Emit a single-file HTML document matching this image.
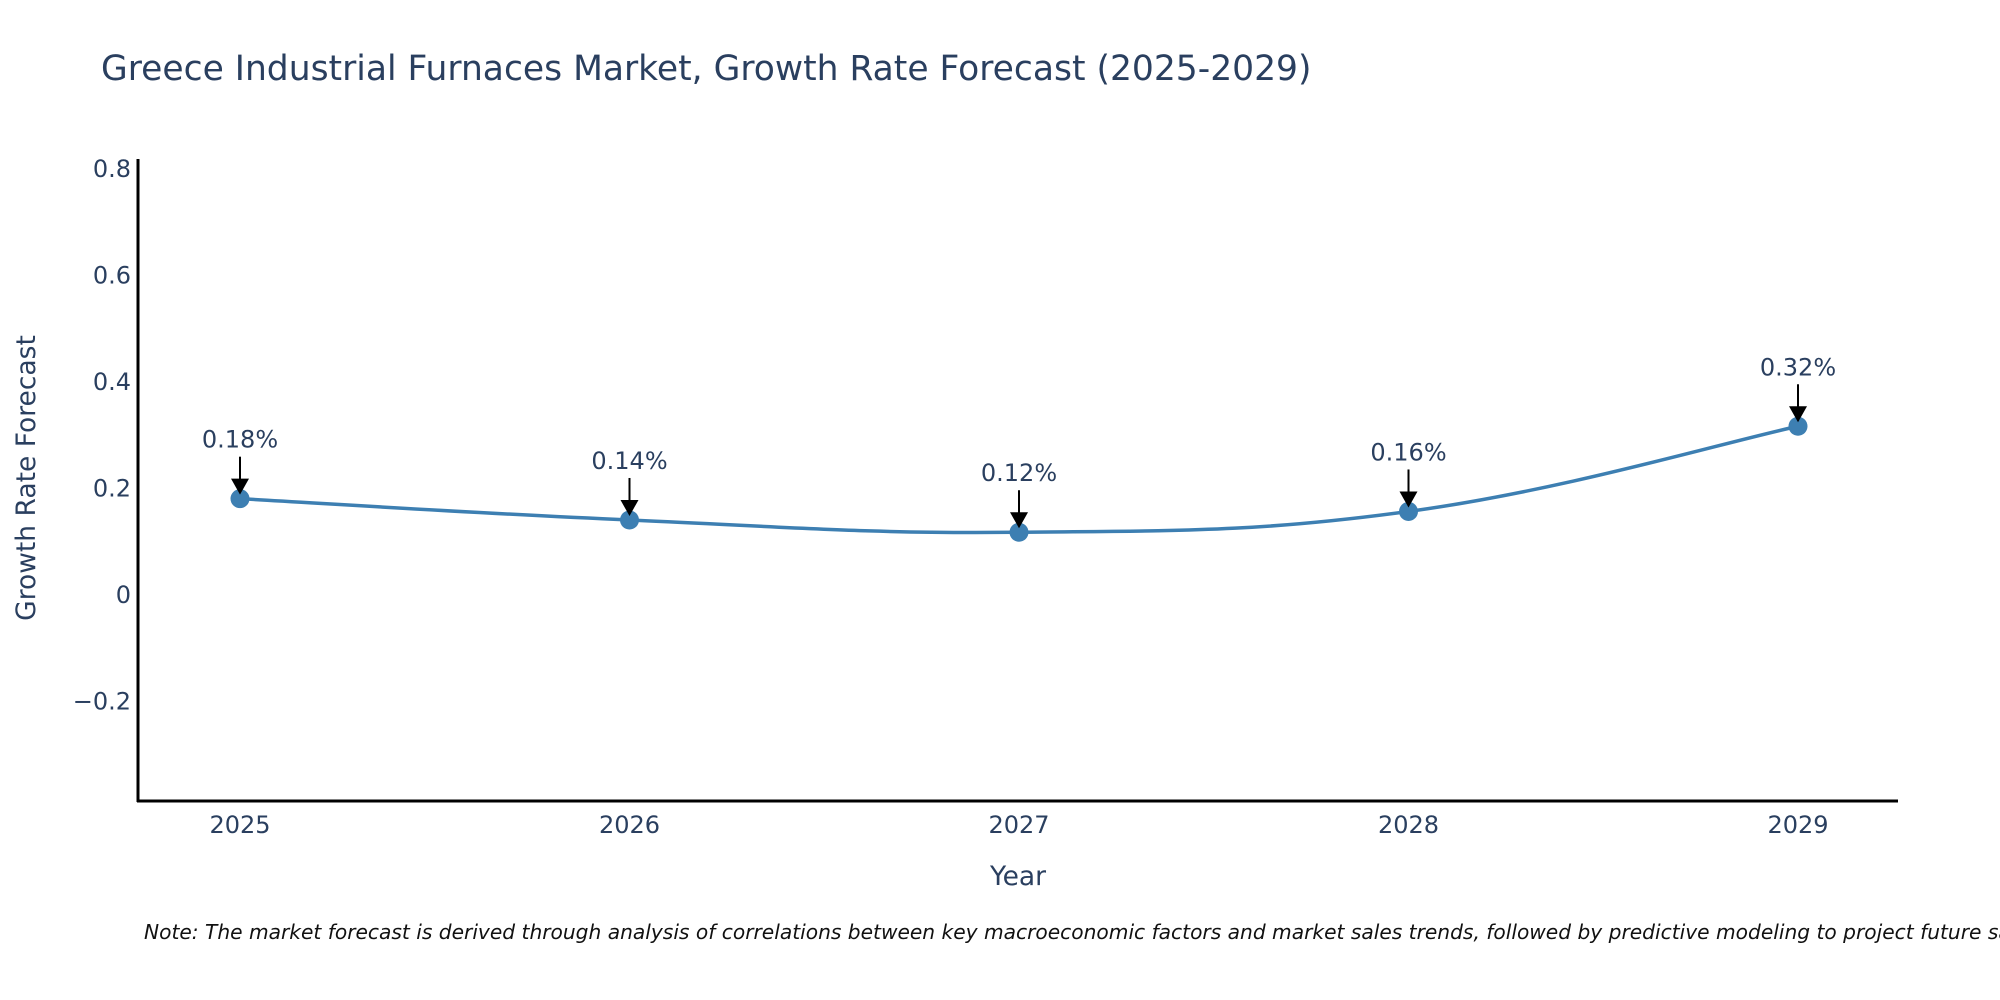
<!DOCTYPE html>
<html><head><meta charset="utf-8"><style>
body{margin:0;background:#fff;}
svg{display:block;font-family:"DejaVu Sans","Liberation Sans",sans-serif;}
</style></head><body>
<svg id="chart" width="2000" height="1000" viewBox="0 0 2000 1000">
<text x="101" y="80" font-size="34.5" fill="#2a3f5f">Greece Industrial Furnaces Market, Growth Rate Forecast (2025-2029)</text>
<g id="yticks"></g>
<g id="xticks"></g>
<g id="series"></g>
<line x1="138" y1="159" x2="138" y2="802" stroke="#000" stroke-width="3"/>
<line x1="137" y1="801" x2="1898" y2="801" stroke="#000" stroke-width="3"/>
<text x="1018" y="885" font-size="26.5" fill="#2a3f5f" text-anchor="middle">Year</text>
<text transform="translate(35,478) rotate(-90)" font-size="26.5" fill="#2a3f5f" text-anchor="middle">Growth Rate Forecast</text>
<text x="144" y="939" font-size="20.2" font-style="italic" fill="#111">Note: The market forecast is derived through analysis of correlations between key macroeconomic factors and market sales trends, followed by predictive modeling to project future sales.</text>
</svg>
<script>
const categories = ["2025","2026","2027","2028","2029"];
const values = [0.179, 0.139, 0.116, 0.155, 0.315];
const labels = ["0.18%","0.14%","0.12%","0.16%","0.32%"];
const yTickValues = [-0.2, 0, 0.2, 0.4, 0.6, 0.8];
const yTickLabels = ["\u22120.2","0","0.2","0.4","0.6","0.8"];

const NS = "http://www.w3.org/2000/svg";
function xs(i){ return 240 + i * 389.5; }
function ys(v){ return 594 - v * 532.5; }
function mk(tag, attrs, parent){ const e=document.createElementNS(NS,tag); for(const k in attrs) e.setAttribute(k, attrs[k]); parent.appendChild(e); return e; }

const yt = document.getElementById('yticks');
yTickValues.forEach((v,i)=>{
  const t = mk('text',{x:131,y:ys(v)+9,'font-size':24,fill:'#2a3f5f','text-anchor':'end'},yt);
  t.textContent = yTickLabels[i];
  
  
});
const xt = document.getElementById('xticks');
categories.forEach((c,i)=>{
  const t = mk('text',{x:xs(i),y:833,'font-size':24,fill:'#2a3f5f','text-anchor':'middle'},xt);
  t.textContent = c;
  
  
});

const g = document.getElementById('series');
const pts = values.map((v,i)=>[xs(i),ys(v)]);
let d = `M${pts[0][0]},${pts[0][1]}`;
const s = 0.2;
for(let i=0;i<pts.length-1;i++){
  const p0 = pts[Math.max(0,i-1)], p1=pts[i], p2=pts[i+1], p3=pts[Math.min(pts.length-1,i+2)];
  const c1=[p1[0]+(p2[0]-p0[0])*s, p1[1]+(p2[1]-p0[1])*s];
  const c2=[p2[0]-(p3[0]-p1[0])*s, p2[1]-(p3[1]-p1[1])*s];
  d += ` C${c1[0]},${c1[1]} ${c2[0]},${c2[1]} ${p2[0]},${p2[1]}`;
}
const line = mk('path',{d:d,fill:'none',stroke:'#3d7fb2','stroke-width':3.5},g);



pts.forEach((p,i)=>{
  const c = mk('circle',{cx:p[0],cy:p[1],r:9.5,fill:'#3d7fb2'},g);
  
  
  const a = mk('line',{x1:p[0],y1:p[1]-42,x2:p[0],y2:p[1]-16,stroke:'#000','stroke-width':2},g);
  
  
  const h = mk('polygon',{points:`${p[0]-9},${p[1]-20} ${p[0]+9},${p[1]-20} ${p[0]},${p[1]-4}`,fill:'#000'},g);
  
  
  const t = mk('text',{x:p[0],y:p[1]-51,'font-size':24,fill:'#2a3f5f','text-anchor':'middle'},g);
  t.textContent = labels[i];
  
  
});
</script>
</body></html>
